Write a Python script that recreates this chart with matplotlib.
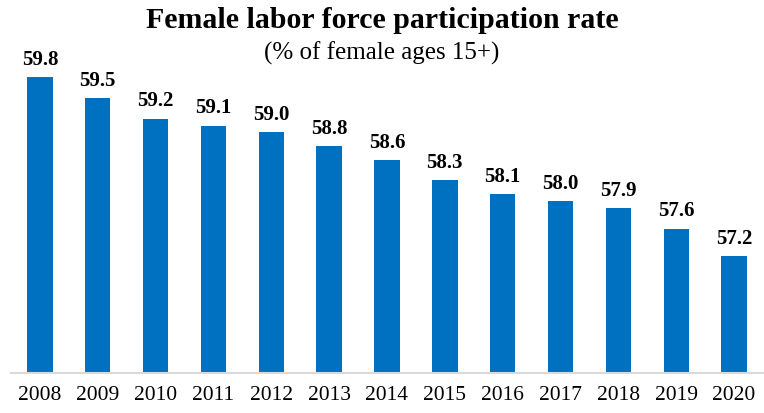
import matplotlib.pyplot as plt

years = ['2008', '2009', '2010', '2011', '2012', '2013', '2014',
         '2015', '2016', '2017', '2018', '2019', '2020']
rate = [59.8, 59.5, 59.2, 59.1, 59.0, 58.8, 58.6, 58.3, 58.1, 58.0, 57.9, 57.6, 57.2]

plt.rcParams['font.family'] = ['Liberation Serif', 'DejaVu Serif']

fig = plt.figure(figsize=(7.64, 4.14), dpi=100)
W, H = 764, 414
ax = fig.add_axes([11 / W, (H - 373.7) / H, 752 / W, (373.7 - 37.3) / H])

x = range(len(years))
ax.bar(x, rate, width=0.44, color='#0070C0', zorder=2)
for i, v in zip(x, rate):
    ax.annotate('%.1f' % v, (i, v), xytext=(0, 6), textcoords='offset points',
                ha='center', va='bottom', fontsize=15, fontweight='bold')

ax.set_xlim(-0.5, 12.5)
ax.set_ylim(55.5, 60.4)
ax.set_xticks(list(x))
ax.set_xticklabels(years, fontsize=15.5)
ax.tick_params(axis='x', length=0, pad=9)
ax.set_yticks([])
for s in ['top', 'right', 'left']:
    ax.spines[s].set_visible(False)
ax.spines['bottom'].set_color('#D9D9D9')
ax.spines['bottom'].set_linewidth(1.5)

fig.text(0.5, 1 - 20 / H, 'Female labor force participation rate',
         ha='center', va='center', fontsize=21.5, fontweight='bold')
fig.text(0.5, 1 - 53 / H, '(% of female ages 15+)',
         ha='center', va='center', fontsize=18)

fig.savefig('out.png', dpi=100)
